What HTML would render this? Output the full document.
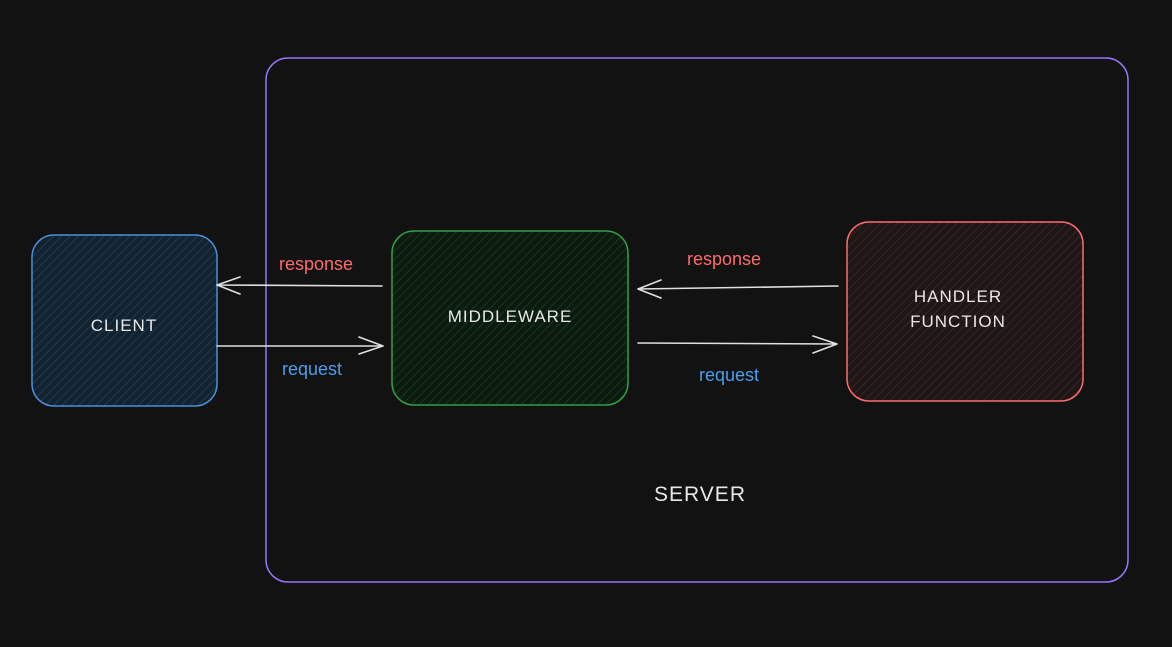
<!DOCTYPE html>
<html><head><meta charset="utf-8"><style>
html,body{margin:0;padding:0;background:#121212;}
svg{display:block}
text{font-family:"Liberation Sans",sans-serif;}
</style></head><body>
<svg width="1172" height="647" viewBox="0 0 1172 647">
<defs>
<pattern id="hb" width="6" height="6" patternUnits="userSpaceOnUse" patternTransform="rotate(45)">
<rect width="6" height="6" fill="#13222f"/><line x1="0" y1="0" x2="0" y2="6" stroke="#1e3a55" stroke-width="2"/></pattern>
<pattern id="hg" width="6" height="6" patternUnits="userSpaceOnUse" patternTransform="rotate(45)">
<rect width="6" height="6" fill="#0c1a0f"/><line x1="0" y1="0" x2="0" y2="6" stroke="#143a1c" stroke-width="2"/></pattern>
<pattern id="hr" width="6" height="6" patternUnits="userSpaceOnUse" patternTransform="rotate(45)">
<rect width="6" height="6" fill="#1f1717"/><line x1="0" y1="0" x2="0" y2="6" stroke="#3a2424" stroke-width="2"/></pattern>
</defs>
<rect width="1172" height="647" fill="#121212"/>
<rect x="266" y="58" width="862" height="524" rx="22" fill="none" stroke="#9775fa" stroke-width="1.5"/>
<rect x="32" y="235" width="185" height="171" rx="22" fill="url(#hb)" stroke="#4a90d9" stroke-width="1.5"/>
<rect x="392" y="231" width="236" height="174" rx="22" fill="url(#hg)" stroke="#2f9e44" stroke-width="1.5"/>
<rect x="847" y="222" width="236" height="179" rx="22" fill="url(#hr)" stroke="#ff6b6b" stroke-width="1.5"/>
<g stroke="#e0e0e0" stroke-width="1.6" fill="none" stroke-linecap="round">
<path d="M382 286 L217 285 M217 285 L240 277 M217 285 L240 294"/>
<path d="M217 346 L383 346 M383 346 L359 337 M383 346 L359 354"/>
<path d="M838 286 L638 289 M638 289 L661 280 M638 289 L661 298"/>
<path d="M638 343 L837 344 M837 344 L813 336 M837 344 L813 353"/>
</g>
<g fill="#e8e8e8" font-size="17" text-anchor="middle" letter-spacing="1">
<text x="124" y="331">CLIENT</text>
<text x="510" y="322">MIDDLEWARE</text>
<text x="958" y="302">HANDLER</text>
<text x="958" y="327">FUNCTION</text>
<text x="700" y="501" font-size="21">SERVER</text>
</g>
<g font-size="18" text-anchor="middle">
<text x="316" y="270" fill="#ff6b6b">response</text>
<text x="312" y="375" fill="#4a9eea">request</text>
<text x="724" y="265" fill="#ff6b6b">response</text>
<text x="729" y="381" fill="#4a9eea">request</text>
</g>
</svg>
</body></html>
